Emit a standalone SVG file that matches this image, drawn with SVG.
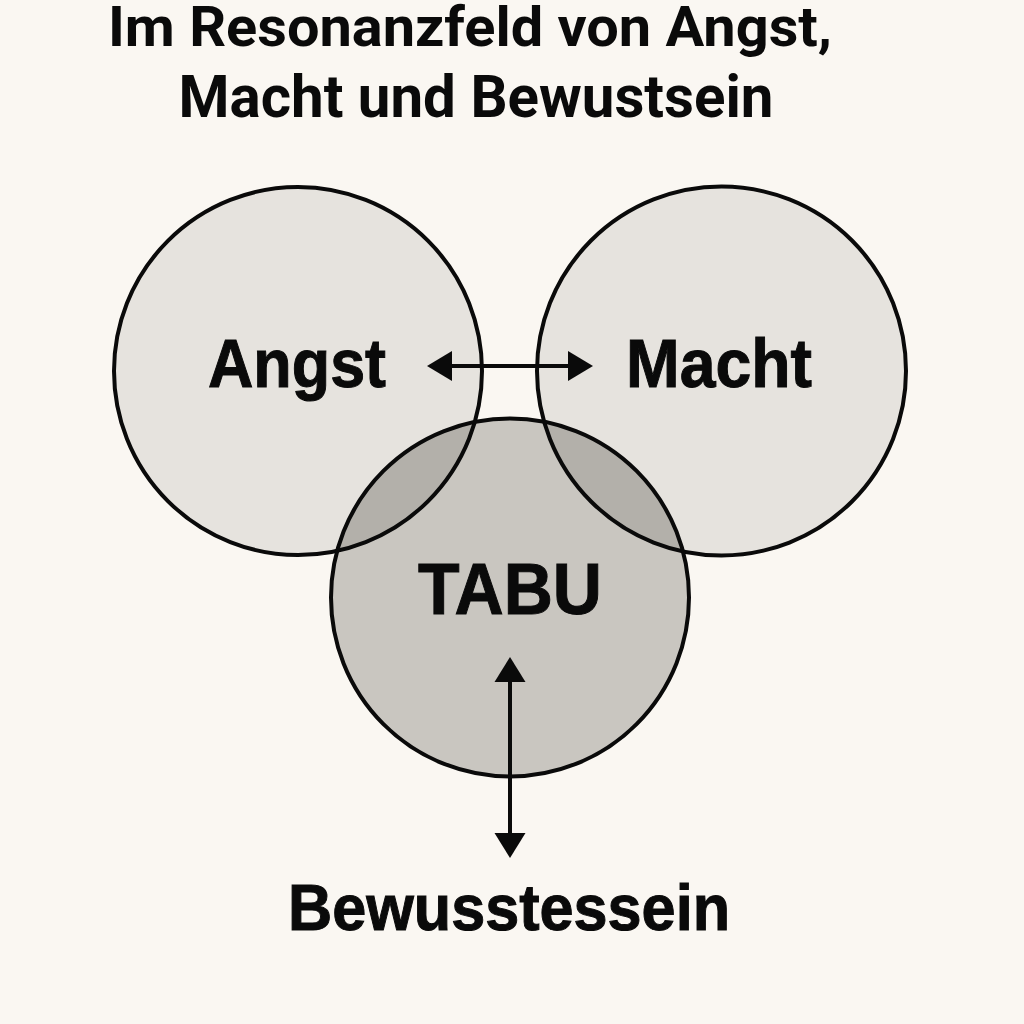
<svg xmlns="http://www.w3.org/2000/svg" width="1024" height="1024" viewBox="0 0 1024 1024">
<style>
.t{font-family:Roboto,"Liberation Sans",sans-serif;font-weight:bold;fill:#0a0a0a;text-anchor:middle}
.lbl{font-family:"Liberation Sans",Arial,sans-serif;font-weight:bold;fill:#0a0a0a;stroke:#0a0a0a;stroke-width:1;text-anchor:middle}
.ring{fill:none;stroke:#0a0a0a;stroke-width:4}
.conn{stroke:#0a0a0a;stroke-width:4;fill:none}
.head{fill:#0a0a0a}
</style>
<defs>
<clipPath id="cl"><circle cx="298" cy="371" r="184"/></clipPath>
<clipPath id="cr"><circle cx="721.5" cy="371" r="184.5"/></clipPath>
</defs>
<rect width="1024" height="1024" fill="#faf7f2"/>
<g id="title">
<text class="t" x="470" y="46" font-size="56" textLength="724" lengthAdjust="spacingAndGlyphs">Im Resonanzfeld von Angst,</text>
<text class="t" x="476" y="117" font-size="59" textLength="595" lengthAdjust="spacingAndGlyphs">Macht und Bewustsein</text>
</g>
<g id="fills">
<circle cx="298" cy="371" r="184" fill="#e6e3de"/>
<circle cx="721.5" cy="371" r="184.5" fill="#e6e3de"/>
<circle cx="510" cy="597.5" r="179" fill="#c9c6c0"/>
<circle cx="510" cy="597.5" r="179" fill="#b3b0aa" clip-path="url(#cl)"/>
<circle cx="510" cy="597.5" r="179" fill="#b3b0aa" clip-path="url(#cr)"/>
</g>
<g id="angst">
<circle class="ring" cx="298" cy="371" r="184"/>
<text class="lbl" x="297" y="387" font-size="68" textLength="178" lengthAdjust="spacingAndGlyphs">Angst</text>
</g>
<g id="macht">
<circle class="ring" cx="721.5" cy="371" r="184.5"/>
<text class="lbl" x="719" y="387" font-size="68" textLength="186" lengthAdjust="spacingAndGlyphs">Macht</text>
</g>
<g id="tabu">
<circle class="ring" cx="510" cy="597.5" r="179"/>
<text class="lbl" x="510" y="614" font-size="72" textLength="184" lengthAdjust="spacingAndGlyphs">TABU</text>
</g>
<g id="bewusstessein">
<text class="lbl" x="509" y="930" font-size="65" textLength="442" lengthAdjust="spacingAndGlyphs">Bewusstessein</text>
</g>
<g id="connectors">
<line class="conn" x1="448" y1="366" x2="572" y2="366"/>
<polygon class="head" points="427,366 452,351 452,381"/>
<polygon class="head" points="593,366 568,351 568,381"/>
<line class="conn" x1="510" y1="678" x2="510" y2="837"/>
<polygon class="head" points="510,657 494.5,682 525.5,682"/>
<polygon class="head" points="510,858 494.5,833 525.5,833"/>
</g>
</svg>
